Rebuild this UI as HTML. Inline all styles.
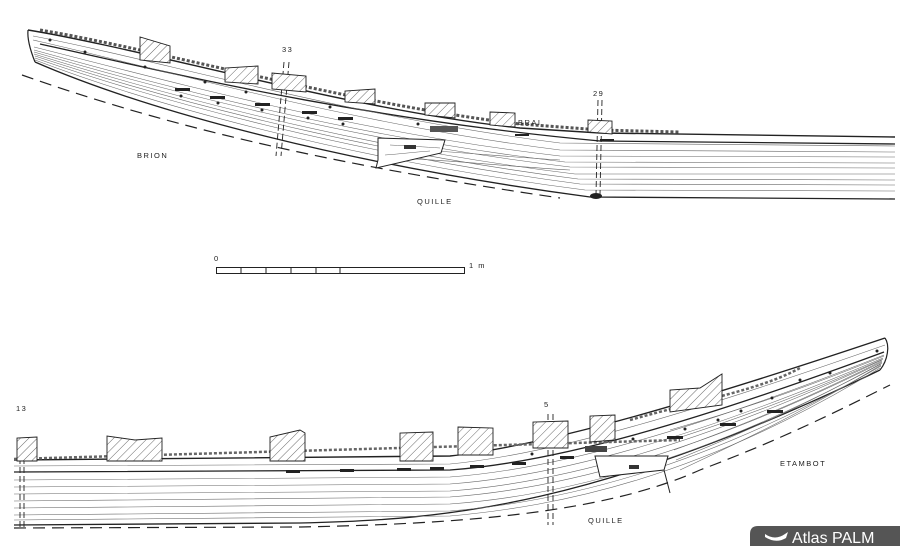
<!DOCTYPE html>
<html><head><meta charset="utf-8"><style>
html,body{margin:0;padding:0;background:#fff;}
svg{display:block;}
text{font-family:"Liberation Sans",sans-serif;fill:#222;}
</style></head><body>
<svg width="900" height="546" viewBox="0 0 900 546" xmlns="http://www.w3.org/2000/svg">
<defs>
<pattern id="h" width="6" height="6" patternUnits="userSpaceOnUse" patternTransform="rotate(45)">
<rect width="6" height="6" fill="#fff"/><line x1="0" y1="0" x2="0" y2="6" stroke="#444" stroke-width="0.8"/>
</pattern>
</defs>
<rect width="900" height="546" fill="#fff"/>

<!-- TOP HULL -->
<g fill="none" stroke="#222">
<path d="M28,30 C150,50 350,110 520,128 L600,133 L895,137" stroke-width="1.4"/>
<path d="M28,30 C27,40 31,52 35,62" stroke-width="1.2"/>
<path d="M35,62 C150,112 350,165 590,197 L895,199" stroke-width="1.3"/>
<path d="M40,44 C150,68 350,118 600,141 L895,144" stroke-width="1.3"/>
<g stroke-width="0.55" stroke="#666">
<path d="M33,36 C150,58 350,117 560,143 L895,146"/>
<path d="M33,40 C150,66 350,124 560,150 L895,152"/>
<path d="M34,47 C150,76 350,132 560,156 L895,157"/>
<path d="M34,50 C150,82 350,137 565,162 L895,163"/>
<path d="M34,52 C150,86 350,141 570,167 L895,168"/>
<path d="M34,54 C150,90 350,147 575,174 L895,174"/>
<path d="M35,56 C150,94 350,150 578,179 L895,180"/>
<path d="M35,58 C150,98 350,154 580,184 L895,185"/>
<path d="M35,60 C150,104 350,160 585,190 L895,191"/>
<path d="M380,150 C420,148 480,155 560,160"/>
<path d="M380,158 C430,158 500,166 570,170"/>
</g>
<path d="M22,75 C150,120 300,160 560,198" stroke-width="1.2" stroke-dasharray="12,7"/>
<path d="M40,30 C150,48 350,104 520,124 L600,130 L680,132" stroke-width="3" stroke="#555" stroke-dasharray="3,2"/>
<path d="M284,62 L276,156 M289,62 L281,156" stroke-width="0.9" stroke-dasharray="6,3"/>
<path d="M598,100 L596,195 M602,100 L600,195" stroke-width="0.9" stroke-dasharray="6,3"/>
<path d="M378,138 L445,140 L441,153 L376,168 L378,160 Z" fill="#fff" stroke-width="1"/>
<path d="M390,145 C410,146 425,147 440,148 M385,155 C400,154 415,152 430,151" stroke-width="0.5" stroke="#666"/>
</g>
<ellipse cx="596" cy="196" rx="6" ry="3" fill="#222"/>
<rect x="404" y="145" width="12" height="4" fill="#333"/>
<rect x="430" y="126" width="28" height="6" fill="#555"/>
<g fill="url(#h)" stroke="#222" stroke-width="0.9">
<path d="M140,60 L140,37 L170,46 L170,63 Z"/>
<path d="M225,82 L225,68 L258,66 L258,84 Z"/>
<path d="M272,89 L272,73 L306,76 L306,92 Z"/>
<path d="M345,102 L345,91 L375,89 L375,104 Z"/>
<path d="M425,115 L425,103 L455,103 L455,118 Z"/>
<path d="M490,125 L490,112 L515,113 L515,127 Z"/>
<path d="M588,132 L588,120 L612,121 L612,134 Z"/>
</g>
<g fill="#222">
<rect x="175" y="88" width="15" height="3"/><rect x="210" y="96" width="15" height="3"/><rect x="255" y="103" width="15" height="3"/>
<rect x="302" y="111" width="15" height="3"/><rect x="338" y="117" width="15" height="3"/><rect x="515" y="134" width="14" height="2"/>
<rect x="600" y="139" width="14" height="2"/>
<circle cx="50" cy="40" r="1.5"/><circle cx="85" cy="52" r="1.5"/><circle cx="145" cy="67" r="1.5"/><circle cx="205" cy="82" r="1.5"/><circle cx="246" cy="92" r="1.5"/><circle cx="330" cy="107" r="1.5"/><circle cx="418" cy="124" r="1.5"/>
<circle cx="181" cy="96" r="1.5"/><circle cx="218" cy="103" r="1.5"/><circle cx="262" cy="110" r="1.5"/><circle cx="308" cy="118" r="1.5"/><circle cx="343" cy="124" r="1.5"/>
</g>

<!-- SCALE -->
<rect x="216.5" y="267.5" width="248" height="6" fill="none" stroke="#222" stroke-width="1"/>
<g stroke="#222"><line x1="241" y1="267" x2="241" y2="274"/><line x1="266" y1="267" x2="266" y2="274"/><line x1="291" y1="267" x2="291" y2="274"/><line x1="316" y1="267" x2="316" y2="274"/><line x1="340" y1="267" x2="340" y2="274"/></g>

<!-- BOTTOM HULL -->
<g fill="none" stroke="#222">
<path d="M14,460 L450,456 C550,445 700,400 885,338" stroke-width="1.4"/>
<path d="M885,338 C890,345 888,360 880,370" stroke-width="1.2"/>
<path d="M14,525 L300,523 C450,520 600,505 880,370" stroke-width="1.3"/>
<path d="M14,472 L450,470 C560,462 700,420 884,352" stroke-width="1.3"/>
<g stroke-width="0.55" stroke="#666">
<path d="M14,466 L450,464 C555,454 700,410 885,345"/>
<path d="M14,480 L450,477 C560,469 700,428 884,355"/>
<path d="M14,487 L450,484 C560,476 700,436 883,358"/>
<path d="M14,494 L450,491 C560,483 700,445 882,360"/>
<path d="M14,501 L450,497 C560,489 700,453 882,362"/>
<path d="M14,508 L450,504 C560,496 700,462 881,364"/>
<path d="M14,515 L450,511 C560,502 700,470 881,366"/>
<path d="M14,520 L450,516 C560,506 700,478 880,368"/>
<path d="M670,430 C740,410 800,390 884,356"/>
<path d="M672,440 C740,418 800,396 883,359"/>
<path d="M674,450 C740,426 800,402 882,361"/>
<path d="M676,460 C740,434 800,408 882,363"/>
<path d="M680,470 C740,442 800,414 881,365"/>
</g>
<path d="M14,528 L300,527 C450,524 600,515 700,470 C780,440 840,410 890,385" stroke-width="1.2" stroke-dasharray="12,7"/>
<path d="M20,440 L20,527 M24,440 L24,527" stroke-width="0.9" stroke-dasharray="6,3"/>
<path d="M548,414 L548,525 M553,414 L553,525" stroke-width="0.9" stroke-dasharray="6,3"/>
<path d="M595,456 L668,456 L664,470 L600,477 Z M664,470 L670,493" fill="#fff" stroke-width="1"/>
<path d="M14,459 L680,440" stroke-width="2.5" stroke="#666" stroke-dasharray="3,2"/>
<path d="M630,420 C700,400 760,390 800,368" stroke-width="2.5" stroke="#666" stroke-dasharray="3,2"/>
</g>
<rect x="629" y="465" width="10" height="4" fill="#333"/>
<rect x="585" y="446" width="22" height="6" fill="#444"/>
<g fill="url(#h)" stroke="#222" stroke-width="0.9">
<path d="M17,461 L17,438 L37,437 L37,461 Z"/>
<path d="M107,461 L107,436 L135,440 L162,438 L162,461 Z"/>
<path d="M270,461 L270,437 L300,430 L305,433 L305,461 Z"/>
<path d="M400,461 L400,433 L433,432 L433,461 Z"/>
<path d="M458,455 L458,427 L493,428 L493,455 Z"/>
<path d="M533,448 L533,422 L568,421 L568,448 Z"/>
<path d="M590,442 L590,416 L615,415 L615,440 Z"/>
<path d="M670,412 L670,390 L700,388 L722,374 L722,405 Z"/>
</g>
<g fill="#222">
<rect x="286" y="470" width="14" height="3"/><rect x="340" y="469" width="14" height="3"/><rect x="397" y="468" width="14" height="3"/><rect x="430" y="467" width="14" height="3"/><rect x="470" y="465" width="14" height="3"/><rect x="512" y="462" width="14" height="3"/>
<rect x="560" y="456" width="14" height="3"/><rect x="667" y="436" width="16" height="3"/><rect x="720" y="423" width="16" height="3"/><rect x="767" y="410" width="16" height="3"/>
<circle cx="532" cy="454" r="1.5"/><circle cx="633" cy="439" r="1.5"/><circle cx="685" cy="429" r="1.5"/><circle cx="718" cy="420" r="1.5"/><circle cx="741" cy="411" r="1.5"/><circle cx="772" cy="398" r="1.5"/><circle cx="800" cy="380" r="1.5"/><circle cx="830" cy="373" r="1.5"/><circle cx="877" cy="351" r="1.5"/>
</g>

<!-- LABELS -->
<g font-size="7.5" letter-spacing="1.5">
<text x="282" y="52">33</text>
<text x="593" y="96">29</text>
<text x="518" y="125">BRAI</text>
<text x="137" y="158">BRION</text>
<text x="417" y="204">QUILLE</text>
<text x="214" y="261">0</text>
<text x="469" y="268">1 m</text>
<text x="16" y="411">13</text>
<text x="544" y="407">5</text>
<text x="780" y="466">ETAMBOT</text>
<text x="588" y="523">QUILLE</text>
</g>

<!-- LOGO -->
<path d="M758,526 L900,526 L900,546 L750,546 L750,534 Q750,526 758,526 Z" fill="#555"/>
<path d="M765,534 Q775,541 785,534 L788,532 L786,538 Q776,544 765,537 Z" fill="#fff"/>
<text x="792" y="543" font-size="16" style="fill:#fff">Atlas PALM</text>
</svg>
</body></html>
